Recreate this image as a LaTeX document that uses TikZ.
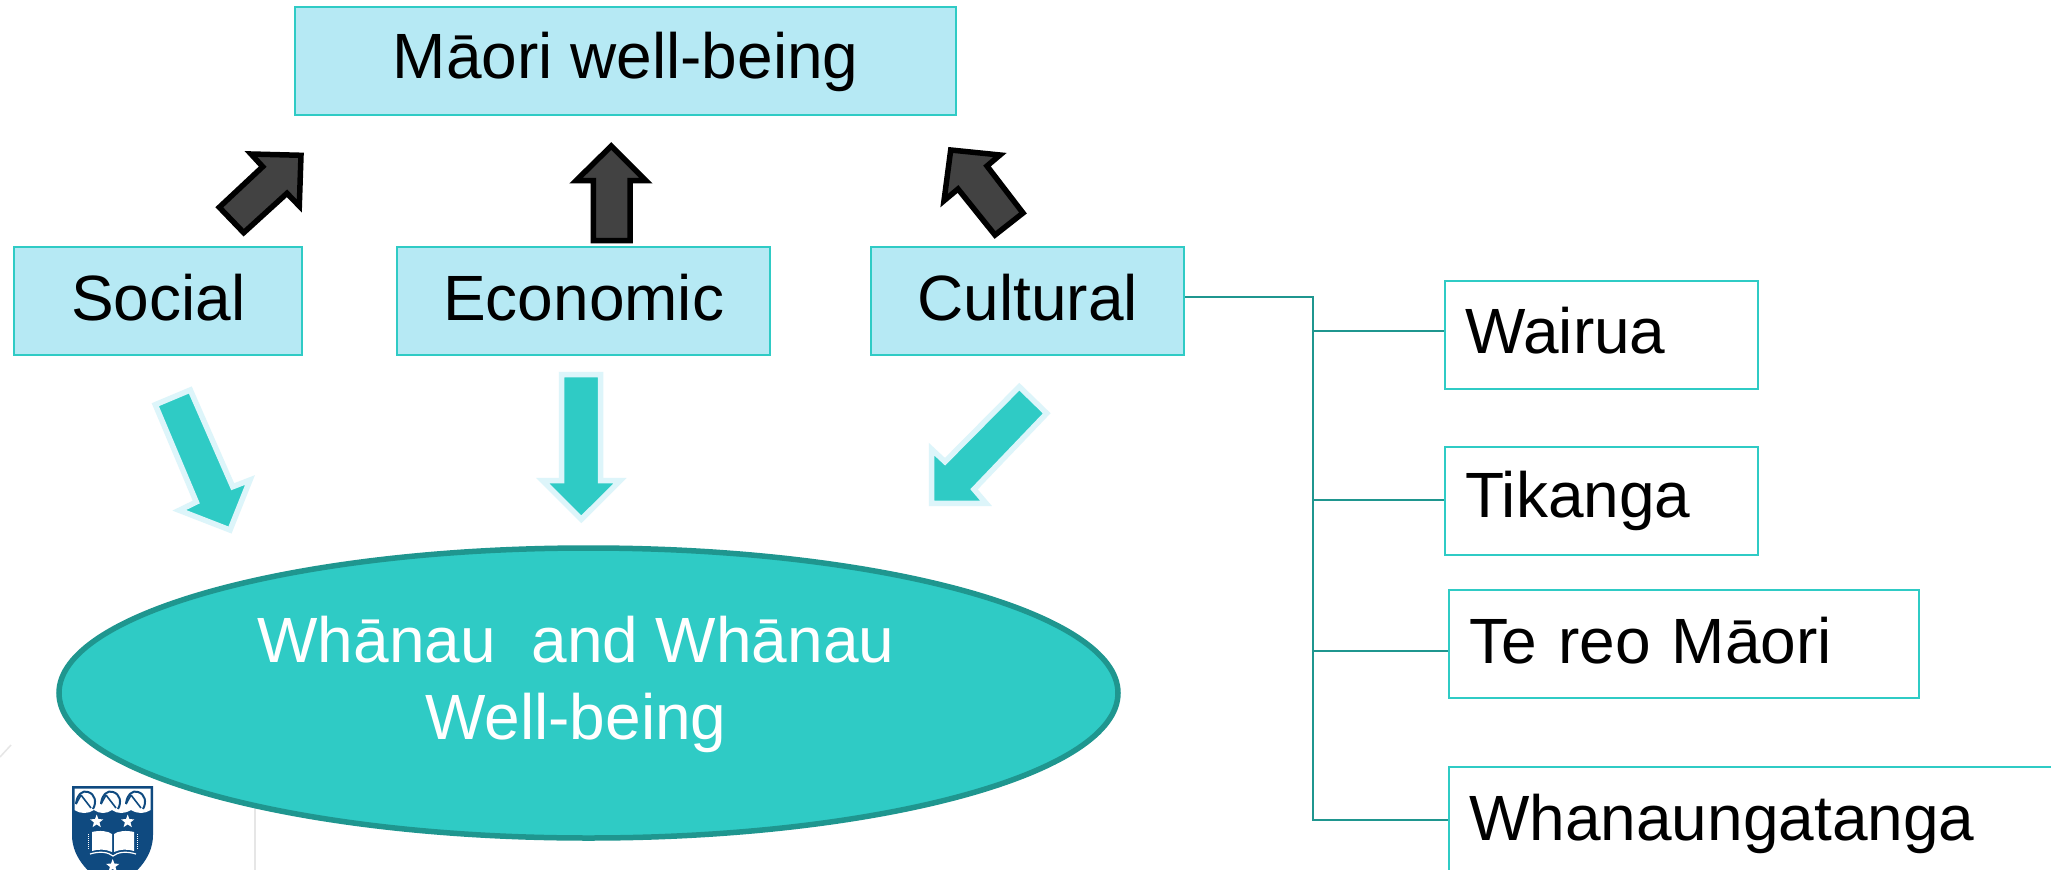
\documentclass[tikz,border=0pt]{standalone}
\usepackage{fontspec}
\setmainfont{Liberation Sans}
\usetikzlibrary{shapes.geometric}
\definecolor{boxfill}{HTML}{B6E9F4}
\definecolor{teal}{HTML}{2FCBC5}
\definecolor{tealdark}{HTML}{1F968F}
\definecolor{halo}{HTML}{DDF5FA}
\definecolor{darkarrow}{HTML}{424242}
\definecolor{navy}{HTML}{0F4A80}
\definecolor{faint}{HTML}{E6E6E6}
\tikzset{
  x=1pt,y=-1pt,
  lbl/.style={font=\fontsize{64}{77}\selectfont,inner sep=0pt},
  topbox/.style={draw=teal,line width=2.4pt,fill=boxfill,inner sep=0pt,font=\fontsize{64}{77}\selectfont,anchor=north west,text height=50pt},
  sidebox/.style={draw=teal,line width=2.4pt,fill=white,inner sep=0pt,font=\fontsize{64}{77}\selectfont,anchor=north west,align=left,text height=50pt},
  link/.style={draw=tealdark,line width=1.6pt},
  uparrow/.style={draw=black,line width=5.5pt,fill=darkarrow,miter limit=10},
  downarrow/.style={draw=halo,line width=5.5pt,fill=teal,miter limit=10},
  oval/.style={ellipse,draw=tealdark,line width=5.5pt,fill=teal,inner sep=0pt},
  starmark/.style={star,star points=5,star point ratio=2.4,fill=white,inner sep=0pt,minimum size=14pt},
}
\begin{document}
\begin{tikzpicture}
\useasboundingbox (0,0) rectangle (2051,870);
\clip (0,0) rectangle (2051,870);
\fill[white] (0,0) rectangle (2051,870);

% faint background lines
\draw[faint,line width=1.5pt] (0,757) -- (11,745);
\draw[faint,line width=2pt] (255,808) -- (255,870);

% boxes
\node[topbox,text depth=15pt,minimum width=661pt,minimum height=108pt] (maori) at (294,6) {Māori well-being};
\node[topbox,text depth=12pt,minimum width=288pt,minimum height=108pt] (social) at (13,246) {Social};
\node[topbox,text depth=12pt,minimum width=373pt,minimum height=108pt] (economic) at (396,246) {Economic};
\node[topbox,text depth=12pt,minimum width=313pt,minimum height=108pt] (cultural) at (870,246) {Cultural};
\node[sidebox,text depth=14pt,minimum width=313pt,minimum height=108pt,text width=273pt] (wairua) at (1444,280) {Wairua};
\node[sidebox,text depth=17pt,minimum width=313pt,minimum height=108pt,text width=273pt] (tikanga) at (1444,446) {Tikanga};
\node[sidebox,text depth=12pt,minimum width=470pt,minimum height=108pt,text width=430pt] (tereo) at (1448,589) {Te reo Māori};
\node[sidebox,text depth=12pt,minimum width=640pt,minimum height=108pt,text width=600pt] (whana) at (1448,766) {Whanaungatanga};

% ellipse
\node[oval,minimum width=1059pt,minimum height=290pt] (well) at (588.5,693) {};
\node[lbl,align=center,text=white] (welltext) at (576,684) {Whānau\ \ and Whānau\\Well-being};

% connectors
\coordinate (trunktop) at (1313,297);
\coordinate (trunkbot) at (1313,820);
\coordinate (branchw) at (1313,331);
\coordinate (brancht) at (1313,500);
\coordinate (branchr) at (1313,651);
\draw[link] (trunktop -| cultural.east) -- (trunktop) -- (trunkbot) -- (trunkbot -| whana.west);
\draw[link] (branchw) -- (branchw -| wairua.west);
\draw[link] (brancht) -- (brancht -| tikanga.west);
\draw[link] (branchr) -- (branchr -| tereo.west);

% dark block arrows
\draw[uparrow] (301,155.3) -- (251,154) -- (262.7,166.7) -- (219.3,207.3) -- (243.7,232.7) -- (287,193.3) -- (299.3,206) -- cycle;
\draw[uparrow] (611.3,146) -- (646,180.7) -- (630,180.7) -- (630,240.7) -- (593.3,240.7) -- (593.3,180.7) -- (576,180.7) -- cycle;
\draw[uparrow] (950.7,150) -- (1000,155) -- (987,166) -- (1023,213) -- (995,235) -- (958,189) -- (944,200.7) -- cycle;

% teal block arrows
\draw[downarrow] (155.3,404.7) -- (190.3,390) -- (232.7,486.7) -- (250,480) -- (230,530) -- (179.3,510.3) -- (196.3,502) -- cycle;
\draw[downarrow] (561.7,374.7) -- (600.7,374.7) -- (600.7,480.7) -- (620,480.7) -- (581.3,519.3) -- (542.7,480.7) -- (561.7,480.7) -- cycle;
\draw[downarrow] (1019.3,386.7) -- (1046.7,413.3) -- (974,489.3) -- (986,503.3) -- (931.7,503.3) -- (931.7,449.3) -- (945,461.7) -- cycle;

% crest
\fill[navy] (72,786) -- (153,786) -- (153,835) .. controls (153,860) and (132,878) .. (112.5,888) .. controls (93,878) and (72,860) .. (72,835) -- cycle;
\fill[white] (74.5,788.5) -- (150.5,788.5) -- (150.5,810) .. controls (144,814) and (138,814) .. (131,810) .. controls (124,814) and (118,814) .. (112,810) .. controls (106,814) and (100,814) .. (94,810) .. controls (88,814) and (80,814) .. (74.5,810) -- cycle;
\foreach \kx in {75,100,125}{
  \draw[navy,line width=2pt] (\kx+1,804) .. controls (\kx+2,794) and (\kx+8,790) .. (\kx+13,792) .. controls (\kx+20,794) and (\kx+22,802) .. (\kx+18,809);
  \draw[navy,line width=1.6pt] (\kx+6,795) -- (\kx+16,808) (\kx+1,804) -- (\kx+6,795);
}
\node[starmark] (star1) at (96.7,821.5) {};
\node[starmark] (star2) at (127.7,821.5) {};
\node[starmark] (star3) at (112.7,866) {};
\fill[white] (92,832) .. controls (100,830) and (108,831) .. (112,834) -- (112,852) .. controls (106,849) and (98,849) .. (92,851) -- cycle;
\fill[white] (114,834) .. controls (118,831) and (126,830) .. (134,832) -- (134,851) .. controls (128,849) and (120,849) .. (114,852) -- cycle;
\draw[white,line width=1pt,densely dotted] (88.5,834) -- (88.5,850) (137.5,834) -- (137.5,850);
\draw[white,line width=1.2pt] (90,854) .. controls (100,851) and (108,852) .. (113,856) .. controls (118,852) and (126,851) .. (136,854);
\end{tikzpicture}
\end{document}
